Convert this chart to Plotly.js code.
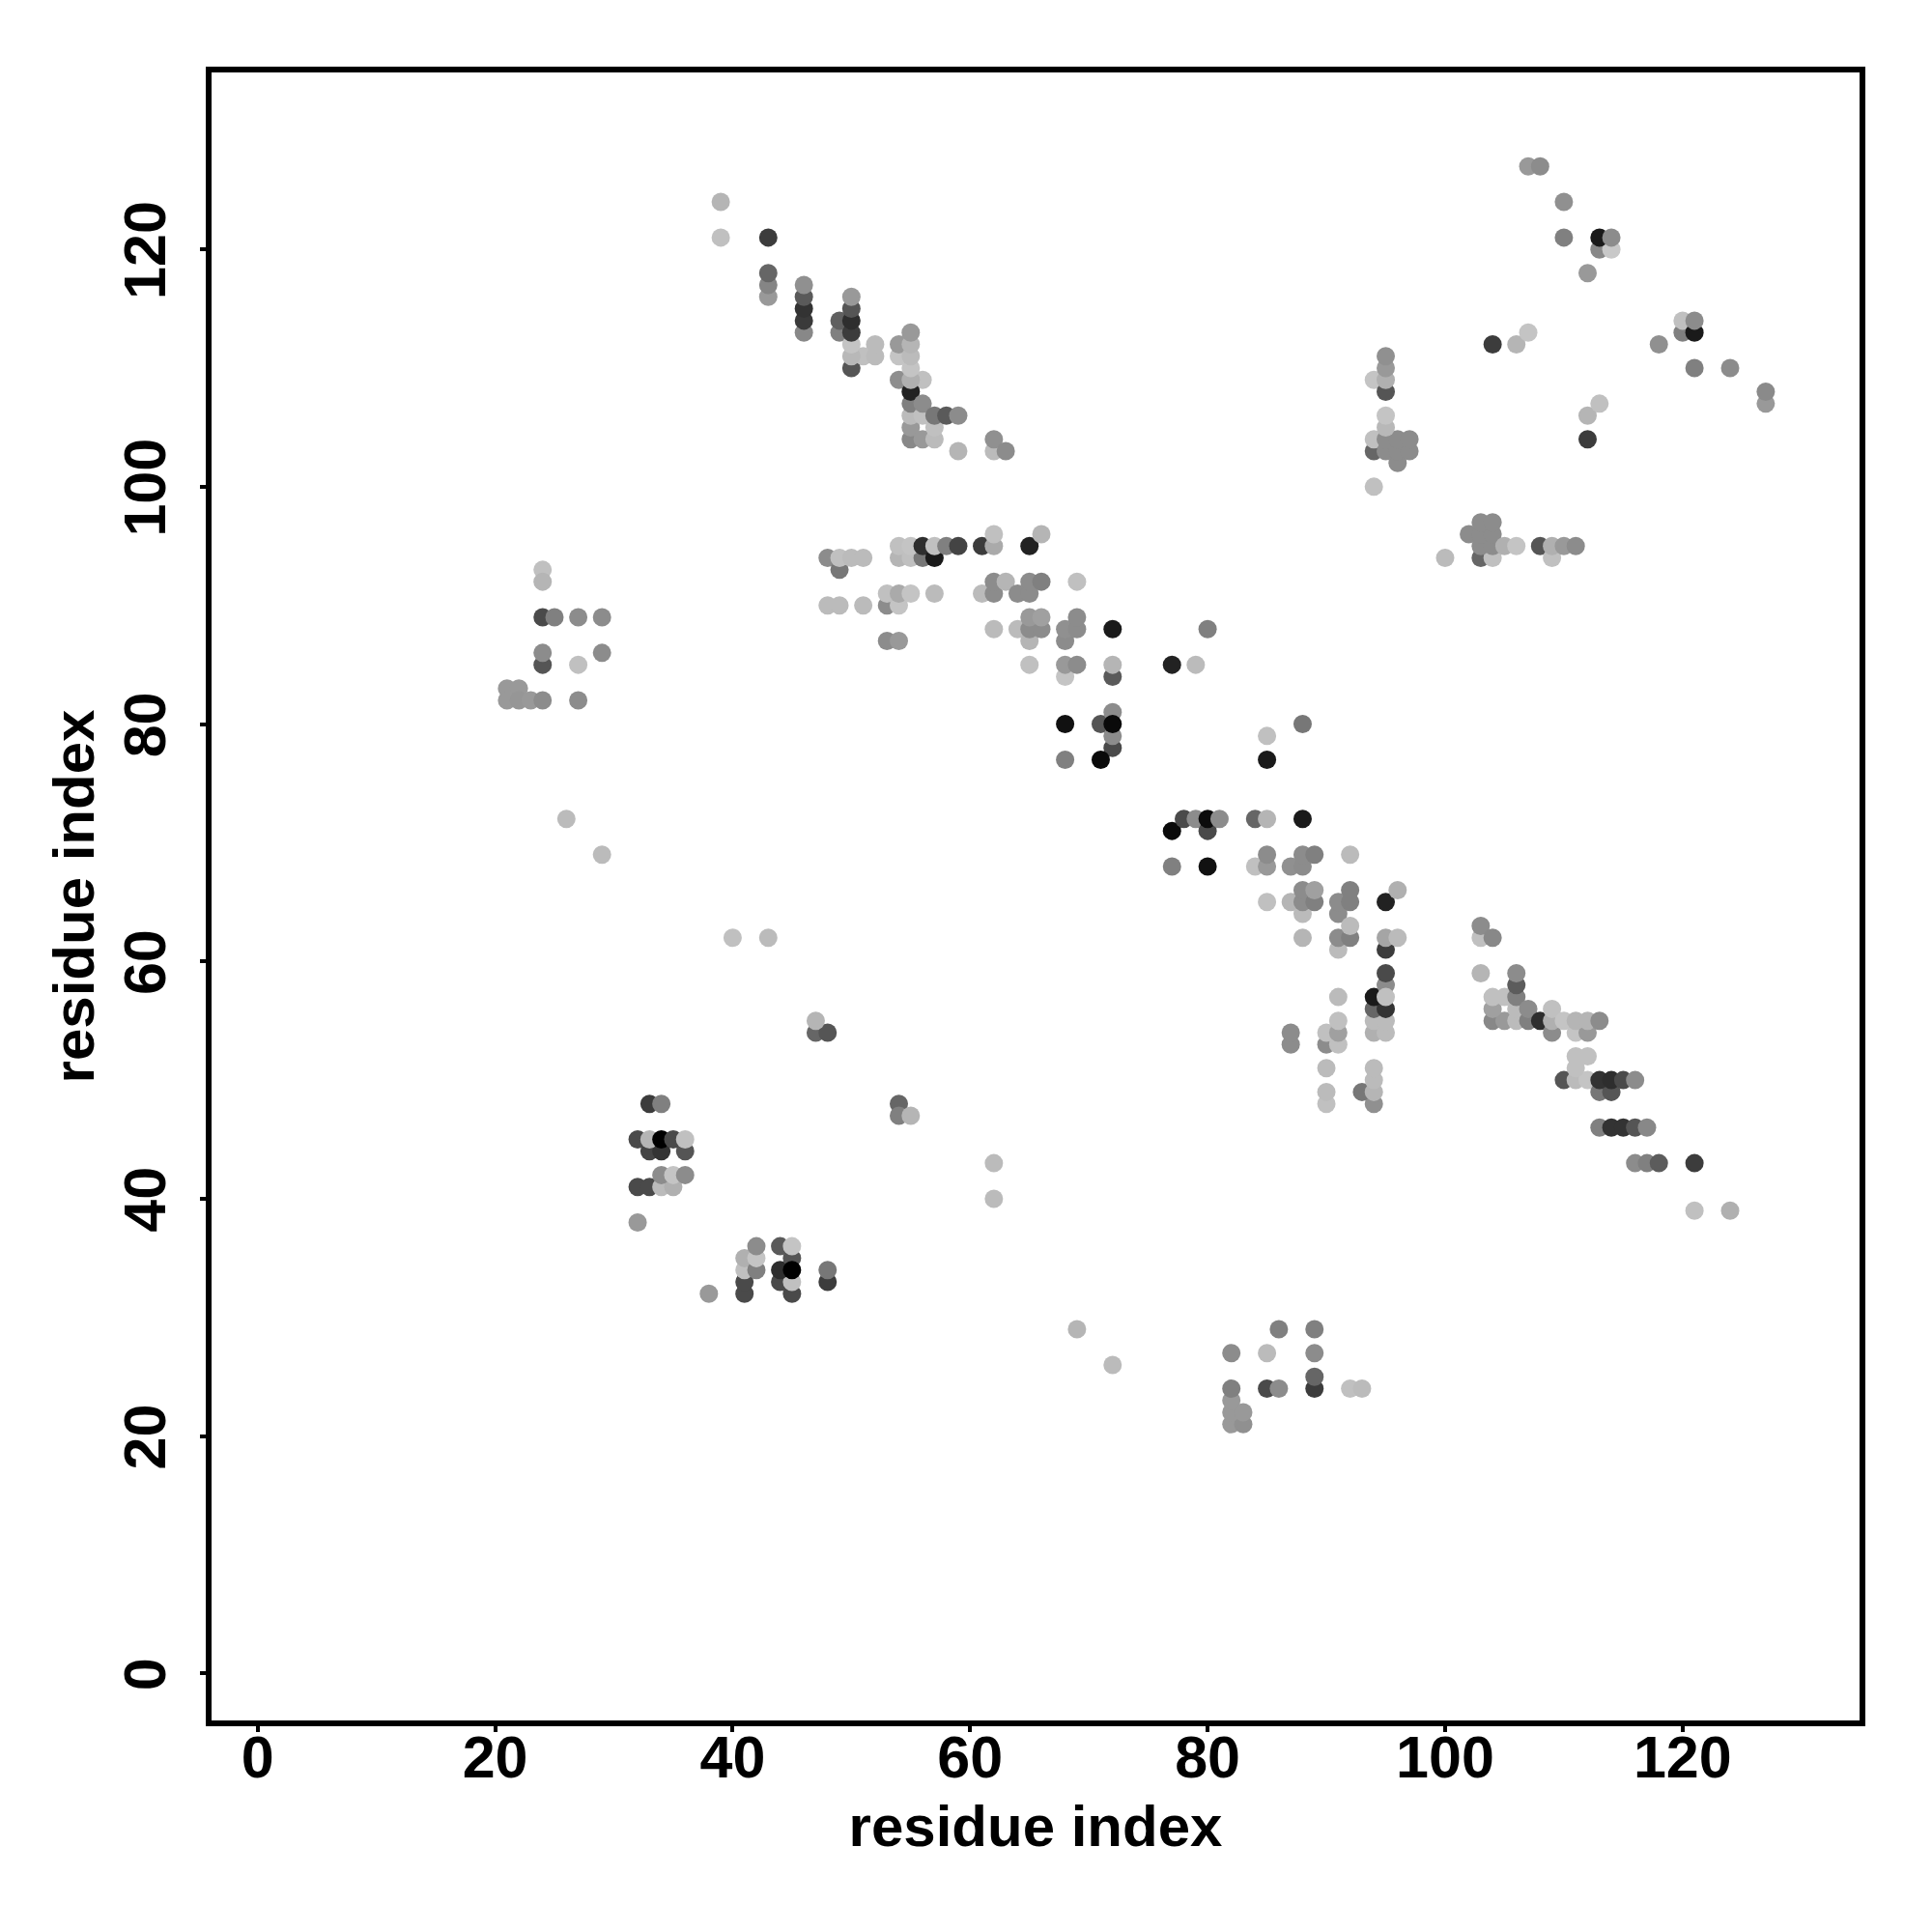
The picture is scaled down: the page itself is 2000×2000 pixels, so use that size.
<!DOCTYPE html>
<html><head><meta charset="utf-8">
<script src="https://cdn.plot.ly/plotly-3.0.1.min.js"></script>
<style>html,body{margin:0;padding:0;background:#fff}</style></head>
<body><div id="chart" style="width:2000px;height:2000px"></div>
<script>
// Each contact: [residue i, residue j, grey level of the dot]
const lowerContacts = [
[21,83,153],[22,83,153],[21,82,153],[22,82,150],[23,82,153],[24,82,140],[27,82,140],
[24,93,192],[24,92,181],[24,89,74],[25,89,128],[27,89,140],[29,89,140],[24,85,85],[24,86,140],[27,85,192],[29,86,140],
[26,72,187],[29,69,187],[40,62,192],[43,62,187],
[32,38,153],[33,48,60],[34,48,128],
[33,44,68],[34,44,51],[36,44,85],[32,45,74],[33,45,181],[34,45,0],[35,45,74],[36,45,192],
[32,41,74],[33,41,74],[34,41,187],[35,41,176],[34,42,140],[35,42,196],[36,42,140],
[38,32,153],[41,32,74],[41,33,74],[41,34,192],[41,35,176],[42,34,128],[42,35,196],[42,36,140],
[44,36,90],[45,32,74],[44,33,74],[45,33,192],[44,34,46],[45,35,85],[45,34,0],[45,36,196],
[48,33,60],[48,34,119],[47,54,102],[48,54,85],[47,55,181],[54,48,102],[54,47,128],[55,47,181],
[62,43,187],[62,40,187],[69,29,181],[72,26,187]
];
const upperLeftContacts = [
[39,124,181],[39,121,192],[43,116,153],[43,117,133],[43,118,102],[43,121,60],
[46,113,136],[46,114,58],[46,115,51],[46,116,90],[46,117,144],
[49,113,128],[49,114,96],[50,110,85],[51,111,192],[52,111,187],[52,112,187],[50,111,184],[50,112,196],[50,113,60],[50,114,46],[50,115,85],[50,116,153],
[54,109,142],[54,111,196],[54,112,153],[56,109,192],[55,104,136],[55,105,153],[55,106,187],[55,107,128],[55,108,34],[55,109,176],[55,110,196],[55,111,187],[55,112,181],[55,113,153],
[56,104,153],[56,106,192],[57,104,187],[57,105,192],[56,107,140],[57,106,119],[58,106,90],[59,106,140],[59,103,181],[62,103,187],[62,104,144],[63,103,140],
[48,94,140],[49,93,119],[49,94,192],[50,94,187],[51,94,187],[48,90,187],[49,90,187],[51,90,187],[53,90,140],[54,90,196],[53,91,192],[54,91,170],[55,91,196],[57,91,187],[53,87,140],[54,87,153],
[54,94,181],[55,94,192],[56,94,119],[54,95,192],[55,95,196],[56,95,46],[57,94,26],[57,95,192],[58,95,128],[59,95,68],[61,95,60],[62,95,170],[62,96,192],[65,95,34],[66,96,181],
[61,91,187],[62,91,140],[62,92,140],[63,92,181],[64,91,140],[65,91,140],[65,92,140],[66,92,128],[69,92,192],
[62,88,187],[64,88,187],[65,87,181],[65,88,140],[66,88,140],[65,89,153],[66,89,160],[68,87,140],[68,88,144],[69,88,140],[69,89,140],[72,88,26],
[65,85,192],[68,84,196],[68,85,153],[69,85,140],[72,84,90],[72,85,181],[68,80,17],[71,80,85],[72,78,74],[72,79,140],[72,81,140],[72,80,10],[68,77,128],[71,77,10],
[77,85,34],[79,85,187],[80,88,128]
];
const centralContacts = [
[77,71,10],[78,72,74],[79,72,140],[80,71,74],[80,72,12],[81,72,140],[77,68,128],[80,68,17],
[84,72,102],[85,72,181],[88,72,26],[88,80,119],[85,79,192],[85,77,26],
[84,68,192],[85,68,153],[85,69,140],[87,68,144],[88,68,140],[88,69,140],[89,69,128],[92,69,187],
[85,65,192],[87,65,181],[88,64,187],[88,65,140],[88,66,140],[89,65,128],[89,66,160],[91,64,140],[91,65,140],[92,65,128],[92,66,128],[95,65,34],[96,66,176],
[88,62,181],[91,61,187],[91,62,140],[92,62,128],[92,63,187],[95,61,60],[95,62,165],[96,62,187],
[87,53,140],[87,54,140],[90,48,192],[90,49,187],[90,51,187],[90,53,140],[90,54,192],[91,53,192],[91,54,160],[91,55,192],[91,57,187],
[94,48,144],[93,49,119],[94,49,181],[94,50,187],[94,51,187],[94,54,176],[95,54,187],[94,55,187],[95,55,187],[94,56,102],[95,56,51],[94,57,26],[95,58,140],[95,57,192],[95,59,74],
[82,21,153],[83,21,144],[82,22,153],[83,22,153],[82,23,153],[82,24,128],[82,27,140],[85,24,74],[86,24,140],[85,27,187],[86,29,128],[89,24,60],[89,25,102],[89,27,140],[89,29,128],[92,24,192],[93,24,187]
];
const upperRightContacts = [
[94,100,192],[94,103,102],[94,104,192],[96,102,140],[95,103,140],[96,103,140],[97,103,140],[95,104,140],[96,104,140],[97,104,140],[95,105,184],[95,106,196],
[94,109,196],[95,108,85],[95,109,176],[95,110,153],[95,111,144],
[100,94,187],[103,94,102],[104,94,192],[102,96,140],[103,95,140],[104,95,140],[103,96,140],[104,96,140],[103,97,140],[104,97,140],[105,95,176],[106,95,196],[108,95,85],[109,94,192],[109,95,176],[110,95,153],[111,95,140],
[104,112,60],[106,112,181],[107,113,196],[112,104,60],[112,106,181],[113,107,192],
[107,127,153],[108,127,140],[110,124,144],[110,121,128],[112,118,153],[113,120,136],[114,120,200],[113,121,26],[114,121,140],
[118,112,144],[120,113,128],[120,114,192],[121,113,26],[121,114,140],[121,110,128],[124,110,140],[127,107,153],[127,108,138]
];
const lowerRightContacts = [
[103,59,181],[103,62,192],[103,63,140],[104,62,136],
[104,55,136],[105,55,153],[104,56,160],[104,57,192],[105,57,192],[106,55,187],[106,56,187],[106,57,128],[106,58,92],[106,59,140],[107,55,128],[107,56,140],[108,55,46],
[109,54,140],[109,55,176],[109,56,192],[110,55,196],[111,54,196],[112,54,153],[111,55,181],[112,55,181],[113,55,140],
[110,50,85],[111,50,187],[112,50,196],[111,51,192],[111,52,192],[112,52,192],[113,49,119],[114,49,85],[113,50,51],[114,50,46],[115,50,74],[116,50,140],
[113,46,128],[114,46,51],[115,46,51],[116,46,85],[117,46,136],[116,43,140],[117,43,128],[118,43,92],[121,43,60],[121,39,192],[124,39,176]
];

const contacts = lowerContacts.concat(upperLeftContacts, centralContacts, upperRightContacts, lowerRightContacts);
const tickValues = [0,20,40,60,80,100,120];
const axisTitle = "residue index";

const tickFont = {size: 61, family: "Liberation Sans", weight: 700};
const titleFont = {size: 60, family: "Liberation Sans", weight: 700};

Plotly.newPlot("chart", [{
  type: "scatter", mode: "markers",
  x: contacts.map(c => c[0]),
  y: contacts.map(c => c[1]),
  marker: {
    size: 19, line: {width: 0},
    color: contacts.map(c => c[2]),
    colorscale: [[0, "#000000"], [1, "#ffffff"]],
    cmin: 0, cmax: 255, showscale: false
  },
  hoverinfo: "x+y"
}], {
  width: 2000, height: 2000,
  paper_bgcolor: "#ffffff", plot_bgcolor: "#ffffff",
  showlegend: false,
  margin: {l: 219, r: 75, t: 75, b: 219, pad: 0},
  font: {family: "Liberation Sans, Arial, sans-serif", color: "#000000"},
  xaxis: {
    range: [-3.88, 134.9], tickvals: tickValues, ticktext: tickValues.map(String),
    showgrid: false, zeroline: false, showline: true, mirror: true, linecolor: "#000", linewidth: 6,
    ticks: "outside", ticklen: 6, tickwidth: 4, tickcolor: "#000", tickangle: 0, ticklabelstandoff: -26,
    tickfont: tickFont,
    title: {text: axisTitle, font: titleFont, standoff: 19}
  },
  yaxis: {
    range: [-3.96, 134.91], tickvals: tickValues, ticktext: tickValues.map(String),
    showgrid: false, zeroline: false, showline: true, mirror: true, linecolor: "#000", linewidth: 6,
    ticks: "outside", ticklen: 6, tickwidth: 4, tickcolor: "#000", tickangle: -90, ticklabelstandoff: 12, ticklabelshift: 10,
    tickfont: tickFont,
    title: {text: axisTitle, font: titleFont, standoff: 1}
  }
}, {displayModeBar: false, staticPlot: true});
</script></body></html>
